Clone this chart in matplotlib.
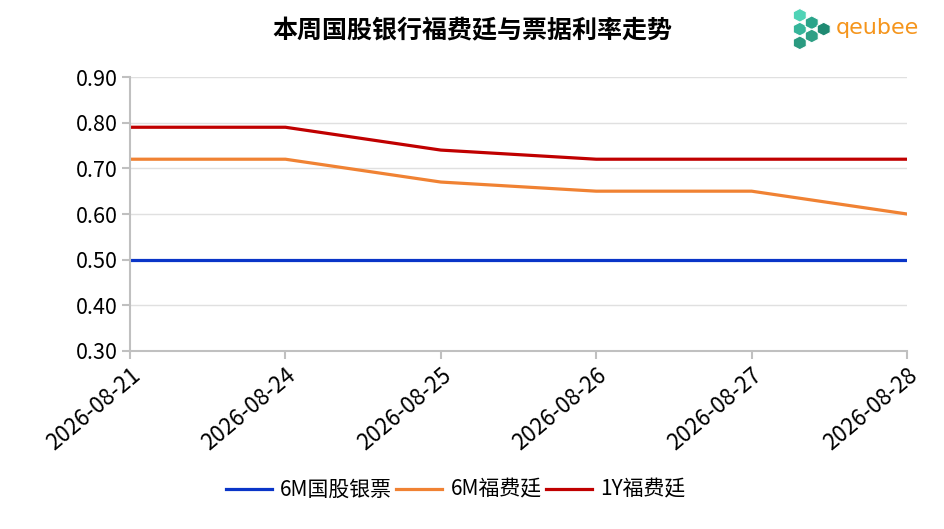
import matplotlib
matplotlib.use('Agg')
import matplotlib.pyplot as plt
from matplotlib.patches import Polygon

plt.rcParams['font.family'] = ['Noto Sans CJK SC', 'DejaVu Sans']

dates = ['2026-08-21', '2026-08-24', '2026-08-25', '2026-08-26', '2026-08-27', '2026-08-28']
guogu_6m = [0.50, 0.50, 0.50, 0.50, 0.50, 0.50]
forfait_6m = [0.72, 0.72, 0.67, 0.65, 0.65, 0.60]
forfait_1y = [0.79, 0.79, 0.74, 0.72, 0.72, 0.72]
yticks = [0.30, 0.40, 0.50, 0.60, 0.70, 0.80, 0.90]

fig = plt.figure(figsize=(9.45, 5.29), dpi=100)
ax = fig.add_axes([0.1376, 0.3365, 0.8222, 0.5179])

x = list(range(len(dates)))
ax.plot(x, guogu_6m, color='#0a35c8', lw=2.3, label='6M国股银票')
ax.plot(x, forfait_6m, color='#f08233', lw=2.3, label='6M福费廷')
ax.plot(x, forfait_1y, color='#c00000', lw=2.3, label='1Y福费廷')

ax.set_xlim(0, len(dates) - 1)
ax.set_ylim(0.30, 0.90)
ax.set_yticks(yticks)
ax.set_yticklabels([f'{v:.2f}' for v in yticks], fontsize=15.5)
ax.set_xticks(x)
ax.set_xticklabels(dates, fontsize=16, rotation=40, ha='right', rotation_mode='anchor')
ax.grid(axis='y', color='#e0e0e0', lw=1)
ax.set_axisbelow(True)
for s in ['top', 'right']:
    ax.spines[s].set_visible(False)
for s in ['left', 'bottom']:
    ax.spines[s].set_color('#c0c0c0')
    ax.spines[s].set_linewidth(1.5)
ax.tick_params(axis='both', color='#c0c0c0', width=1.5, length=6, pad=3)

fig.text(0.5, 0.94, '本周国股银行福费廷与票据利率走势', ha='center', va='center',
         fontsize=18, fontweight='bold')

leg = fig.legend(loc='center', bbox_to_anchor=(0.482, 0.074), ncol=3, frameon=False,
                 fontsize=15, handlelength=2.2, handletextpad=0.4, columnspacing=0.2)

# logo
logo_ax = fig.add_axes([0.836, 0.905, 0.046, 0.08])
logo_ax.set_xlim(0, 4)
logo_ax.set_ylim(0, 4)
logo_ax.axis('off')
cubes = [((0.9, 3.3), '#4fd3b6'), ((0.9, 2.0), '#35b59a'), ((2.0, 2.6), '#2aa48a'),
         ((0.9, 0.7), '#2a9a80'), ((2.0, 1.35), '#2e9f85'), ((3.1, 2.0), '#1f8a72')]
for (cx, cy), c in cubes:
    logo_ax.add_patch(Polygon([(cx, cy + 0.65), (cx + 0.6, cy + 0.33), (cx + 0.6, cy - 0.33),
                               (cx, cy - 0.65), (cx - 0.6, cy - 0.33), (cx - 0.6, cy + 0.33)],
                              closed=True, color=c, ec='white', lw=0.8))
fig.text(0.884, 0.947, 'qeubee', ha='left', va='center', fontsize=16,
         color='#f5951c', family='DejaVu Sans')

fig.savefig('out.png', dpi=100)
